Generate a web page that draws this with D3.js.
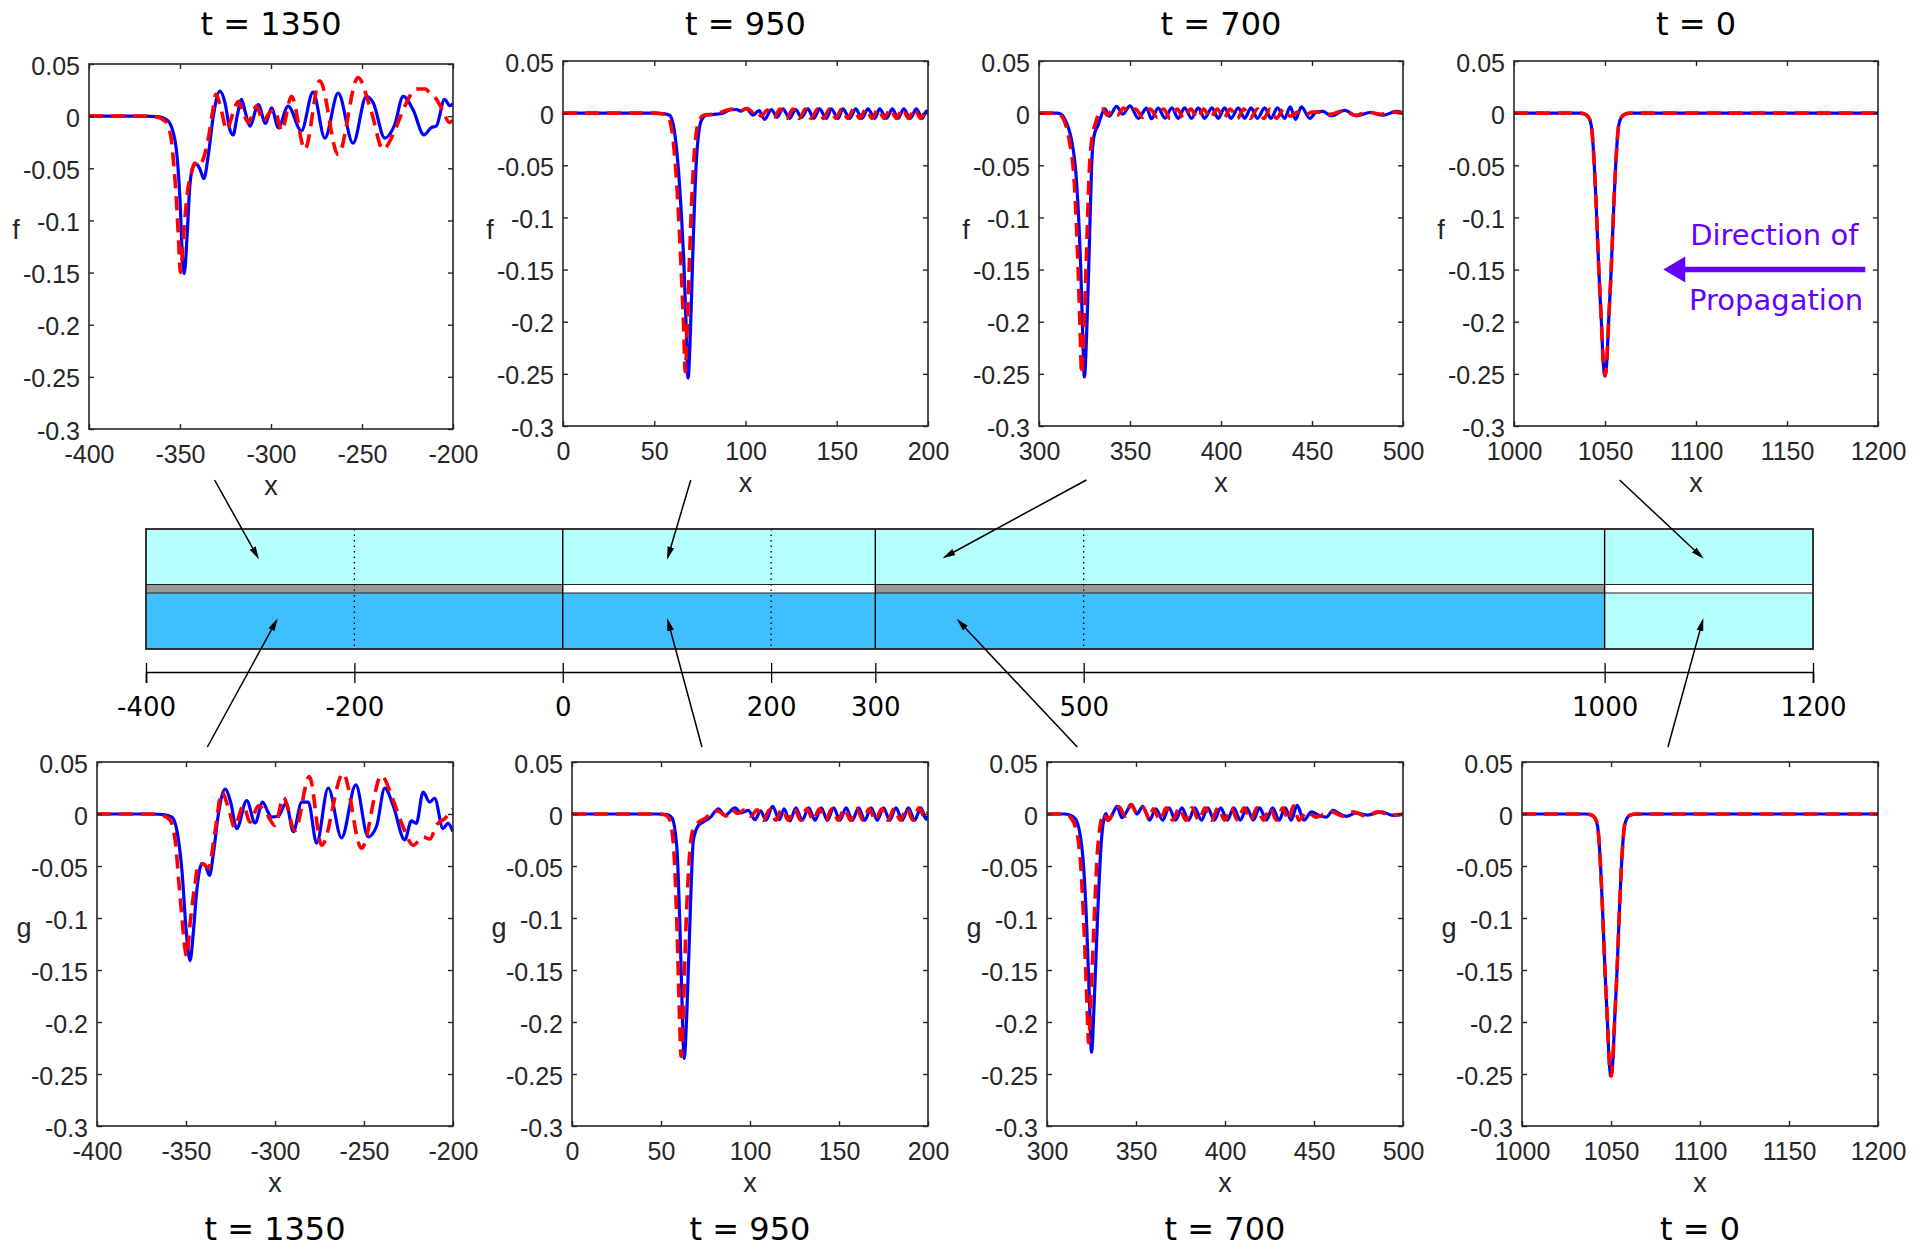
<!DOCTYPE html>
<html>
<head>
<meta charset="utf-8">
<script src="https://cdn.jsdelivr.net/npm/d3@7"></script>
<style>
body { margin: 0; background: #fff; }
svg { display: block; }
</style>
</head>
<body>
<svg id="fig" width="1924" height="1250"></svg>
<script>
// snapshot times and axis settings, one entry per column
const times = [1350, 950, 700, 0];
const xDomains = [[-400, -200], [0, 200], [300, 500], [1000, 1200]];
const xTicks = [[-400, -350, -300, -250, -200], [0, 50, 100, 150, 200],
                [300, 350, 400, 450, 500], [1000, 1050, 1100, 1150, 1200]];
const yTicks = [0.05, 0, -0.05, -0.1, -0.15, -0.2, -0.25, -0.3];

// f (upper layer), t = 1350
const f1350Blue = [[-400,0],[-370,0],[-362,-0.0005],[-357,-0.004],[-354,-0.014],[-352,-0.032],[-350,-0.08],[-348.6,-0.1376],
  [-347.7,-0.151],[-346,-0.112],[-344.6,-0.067],[-342.7,-0.048],[-340.9,-0.046],[-339,-0.051],[-336.9,-0.06],[-334.5,-0.038],
  [-331.7,0],[-328.1,0.024],[-325.3,0.013],[-322.6,-0.013],[-320.8,-0.018],[-318.6,0],[-316.2,0.016],[-314,0.003],[-311.6,-0.0096],
  [-307,0.011],[-303,-0.007],[-299.7,0.008],[-296,-0.011],[-290.6,0.0096],[-283.3,-0.014],[-276.9,0.023],[-270.4,-0.021],
  [-263.1,0.022],[-254.9,-0.026],[-247.6,0.019],[-243.9,0.013],[-237.5,-0.021],[-232,-0.008],[-227.4,0.019],[-221.9,0.006],
  [-216,-0.018],[-211.9,-0.011],[-209.2,-0.0096],[-204.6,0.016],[-201.8,0.010],[-200,0.012]];
const f1350Red = [[-400,0],[-372,0],[-364,-0.0005],[-358,-0.005],[-355,-0.02],[-353.5,-0.045],[-352,-0.08],[-351,-0.112],
  [-349.7,-0.150],[-348.2,-0.118],[-346,-0.074],[-343.6,-0.054],[-342,-0.045],[-340,-0.048],[-337,-0.04],[-334.5,-0.022],
  [-332,0.005],[-330.3,0.021],[-327.2,0.005],[-324.4,-0.013],[-321,0.002],[-318,0.014],[-315,0.002],[-312.5,-0.006],[-308,0.0096],
  [-304.3,-0.005],[-301,0.003],[-297.9,0.006],[-294.2,-0.014],[-288.7,0.019],[-281.4,-0.032],[-273.2,0.034],[-263.1,-0.037],
  [-252.2,0.037],[-245,0.005],[-238.4,-0.032],[-233,-0.018],[-226.5,0.0096],[-220.1,0.026],[-215,0.026],[-213.7,0.024],
  [-209,0.016],[-205.5,0.005],[-202,-0.006],[-200,-0.004]];

// f, t = 950
const f950Blue = [[0,0],[50,0],[55,-0.0005],[58.4,-0.002],[61.2,-0.019],[63.9,-0.07],[66.3,-0.147],[67.6,-0.211],[68.5,-0.254],
  [69.8,-0.211],[71.2,-0.131],[73.1,-0.045],[75.8,-0.007],[78.5,-0.002],[84,-0.001],[87.7,0],[91.3,0.003],[95,0.0035],[97.5,0.002],
  [100.5,0.0045],[104.1,-0.002],[107.4,0.0025],[110.5,-0.006],[114.2,0.0035],[117.3,-0.004],[120.5,0.004],[124.2,-0.005],
  [127.5,0.0035],[130.6,-0.004],[134.2,0.004],[137.4,-0.005],[140.6,0.004],[144.3,-0.005],[147,0.004],[150.7,-0.005],[153.4,0.004],
  [157.1,-0.005],[160.4,0.004],[163.8,-0.005],[167.1,0.004],[170.8,-0.005],[173.5,0.004],[177.2,-0.005],[180.5,0.004],
  [183.6,-0.005],[186.7,0.004],[190.3,-0.005],[193.6,0.004],[196.9,-0.005],[199.1,0.002],[200,0.001]];
const f950Red = [[0,0],[50,0],[54,-0.0005],[57,-0.002],[59.5,-0.015],[62,-0.06],[64.5,-0.14],[66,-0.2],[67,-0.248],[68.2,-0.2],
  [69.5,-0.13],[71.5,-0.05],[74,-0.01],[77,-0.002],[82,-0.001],[86,0.0005],[90,0.003],[94,0.004],[98,0.003],[101,0.0045],[104,0.001],
  [106,0.003],[108.5,-0.003],[112,0.003],[115.5,-0.004],[119,0.004],[122.5,-0.005],[126,0.004],[129.5,-0.005],[132.8,0.004],
  [136,-0.005],[139.5,0.004],[142.8,-0.005],[146,0.004],[149.5,-0.005],[152.8,0.004],[156,-0.005],[159.3,0.004],[162.6,-0.005],
  [166,0.004],[169.3,-0.005],[172.6,0.004],[176,-0.005],[179.3,0.004],[182.6,-0.005],[186,0.004],[189.3,-0.005],[192.6,0.004],
  [196,-0.005],[199,0.003],[200,0.002]];

// f, t = 700
const f700Blue = [[300,0],[310,0],[312,-0.001],[314.3,-0.006],[316.5,-0.016],[317.9,-0.026],[320.7,-0.067],[322.9,-0.147],
  [324,-0.211],[324.9,-0.253],[326.2,-0.211],[327.6,-0.131],[328.9,-0.051],[330.2,-0.022],[332.6,-0.011],[334.4,-0.0016],
  [336.2,0.004],[338.6,-0.003],[342.6,0.0064],[346,-0.001],[350,0.007],[354.6,-0.005],[359.1,0.0048],[361.8,-0.0054],
  [365.5,0.0048],[369.2,-0.0048],[373,0.005],[376.5,-0.005],[380,0.005],[383.8,-0.005],[387.5,0.005],[391,-0.005],[395,0.005],
  [398.5,-0.005],[402,0.005],[405.5,-0.005],[409.5,0.005],[413,-0.005],[416.5,0.005],[420,-0.005],[424,0.005],[427.5,-0.005],
  [431,0.005],[435,-0.005],[438,0.006],[441,-0.006],[444.2,0.006],[448.8,-0.005],[452,0.0005],[456,0.0016],[460.7,-0.0026],
  [468,0.0026],[474.4,-0.0026],[481.7,0.0006],[489,-0.002],[496.3,0.0016],[500,0.0005]];
const f700Red = [[300,0],[309,0],[311,-0.001],[313.5,-0.006],[316.5,-0.025],[319.5,-0.07],[321.5,-0.15],[322.6,-0.21],
  [323.4,-0.25],[324.6,-0.21],[326,-0.14],[327.5,-0.06],[329,-0.025],[331,-0.01],[333.5,0.002],[335,0.004],[337.5,-0.002],
  [340,0.002],[343,-0.002],[346.5,0.005],[350,0.001],[353,0.004],[357,-0.004],[361,0.004],[365,-0.004],[368.5,0.004],
  [372,-0.005],[376,0.004],[379.5,-0.005],[383.5,0.004],[387,-0.005],[390.5,0.004],[394,-0.005],[398,0.004],[401.5,-0.005],
  [405,0.004],[409,-0.005],[412.5,0.004],[416,-0.005],[420,0.004],[423.5,-0.005],[427,0.004],[430.5,-0.005],[434.5,0.004],
  [438,-0.003],[442,0.001],[446,-0.002],[450,0.001],[455,0.001],[460,-0.001],[467,0.002],[474,-0.002],[481,0.0008],
  [488,-0.001],[495,0.001],[500,0]];

// initial soliton, t = 0 (both layers, both models coincide)
const initialProfile = [[1000,0],[1036,0],[1039,-0.001],[1041,-0.004],[1042.5,-0.012],[1043.8,-0.04],[1045.2,-0.09],
  [1046.6,-0.15],[1048,-0.2],[1049,-0.238],[1050,-0.252],[1051,-0.238],[1052,-0.2],[1053.4,-0.15],[1054.8,-0.09],
  [1056.2,-0.04],[1057.5,-0.012],[1059,-0.004],[1061,-0.001],[1064,0],[1200,0]];

// g (lower layer), t = 1350
const g1350Blue = [[-400,0],[-370,0],[-362.6,-0.0005],[-357.9,-0.003],[-355.1,-0.016],[-352.3,-0.054],[-349.9,-0.112],
  [-347.7,-0.141],[-345.8,-0.112],[-343.9,-0.073],[-341.1,-0.048],[-339,-0.05],[-336.8,-0.059],[-334.6,-0.038],[-331.8,0],
  [-328,0.024],[-325,0.012],[-321.5,-0.014],[-315.9,0.013],[-311.2,-0.0086],[-306.9,0.0115],[-304,0.002],[-301.9,-0.003],
  [-298.1,-0.002],[-293.8,0.0106],[-289.7,-0.017],[-285,0.0115],[-281.3,0.0115],[-276.6,-0.028],[-270.1,0.025],[-262.6,-0.023],
  [-254.6,0.028],[-247.7,-0.022],[-243,-0.012],[-238.3,0.025],[-233.6,0.008],[-227.1,-0.025],[-223.4,-0.0067],[-220.6,-0.009],
  [-216.8,0.021],[-213.1,0.0115],[-210.3,0.015],[-205.6,-0.014],[-202.8,-0.009],[-200,-0.017]];
const g1350Red = [[-400,0],[-372,0],[-365,-0.0005],[-358.9,-0.006],[-356.1,-0.025],[-353.3,-0.08],[-349.5,-0.137],
  [-347.7,-0.105],[-344.9,-0.067],[-343,-0.048],[-340.2,-0.048],[-337.4,-0.052],[-333.6,-0.016],[-329.9,0.021],[-326,0.005],
  [-322.8,-0.0125],[-317.8,0.008],[-314,-0.0077],[-309.3,0.008],[-305,0.001],[-300,-0.011],[-295.3,0.016],[-288.8,-0.016],
  [-280.7,0.036],[-273.8,-0.03],[-261.7,0.039],[-251.4,-0.033],[-240.2,0.037],[-234,0.015],[-228,-0.0125],[-222.4,-0.03],
  [-217,-0.022],[-213.1,-0.024],[-209,-0.01],[-204.7,-0.0045],[-200,0.005]];

// g, t = 950
const g950Blue = [[0,0],[48,0],[53.3,-0.0005],[56.1,-0.0035],[58.9,-0.032],[60.7,-0.112],[62,-0.192],[63,-0.235],[64.5,-0.192],
  [66.4,-0.096],[68.2,-0.025],[71,-0.011],[73.8,-0.0077],[77.6,-0.0035],[82.2,0.005],[86,-0.0013],[91.6,0.0058],[95,0.001],
  [99,0.0035],[102.8,-0.0054],[106,0.003],[109,-0.006],[112.7,0.0074],[116.5,-0.0054],[119.1,0.005],[122.4,-0.0067],
  [125.8,0.006],[129.3,-0.006],[133,0.006],[136.5,-0.006],[140,0.006],[143.5,-0.006],[147,0.006],[150.5,-0.006],[154,0.006],
  [157.5,-0.006],[161,0.006],[164.5,-0.006],[168,0.006],[171.5,-0.006],[175,0.006],[178.5,-0.006],[182,0.006],[185.5,-0.006],
  [189,0.006],[192.5,-0.006],[196,0.006],[199,-0.005],[200,-0.002]];
const g950Red = [[0,0],[47,0],[51.5,-0.0005],[54.5,-0.004],[57,-0.03],[59,-0.11],[60.3,-0.19],[61.3,-0.233],[62.5,-0.19],
  [64,-0.11],[66,-0.04],[68,-0.015],[71,-0.008],[75,-0.004],[80,0.003],[83,0.002],[86.5,-0.002],[90,0.004],[93,0.0005],
  [97,0.004],[100.5,-0.002],[104,0.004],[107.5,-0.006],[111,0.004],[114.5,-0.006],[118,0.005],[121.5,-0.006],[125,0.005],
  [128.5,-0.006],[132,0.005],[135.5,-0.006],[139,0.005],[142.5,-0.006],[146,0.005],[149.5,-0.006],[153,0.005],[156.5,-0.006],
  [160,0.005],[163.5,-0.006],[167,0.005],[170.5,-0.006],[174,0.005],[177.5,-0.006],[181,0.005],[184.5,-0.006],[188,0.006],
  [191.5,-0.006],[195,0.006],[198.5,-0.004],[200,0.002]];

// g, t = 700
const g700Blue = [[300,0],[310,0],[312.1,-0.0005],[315.9,-0.0045],[319.6,-0.032],[322.1,-0.099],[323.9,-0.182],[325,-0.229],
  [326.5,-0.182],[328.4,-0.099],[330.3,-0.032],[331.8,-0.006],[333.1,0.0003],[334.6,-0.006],[337.4,0.002],[339.3,0.0074],
  [342.1,-0.0035],[347.7,0.009],[350.5,0],[353.8,0.0074],[357.6,-0.006],[361.2,0.005],[365,-0.006],[368.5,0.006],[372.2,-0.006],
  [375.8,0.006],[379.5,-0.006],[383,0.006],[386.8,-0.006],[390.3,0.006],[394,-0.006],[397.6,0.006],[401.3,-0.006],[404.9,0.006],
  [408.6,-0.006],[412.2,0.006],[415.9,-0.006],[419.5,0.006],[423.2,-0.006],[426.8,0.006],[430.4,-0.006],[433.8,0.006],
  [437.2,-0.006],[440.5,0.0083],[444.3,-0.006],[448.6,0.002],[452.5,-0.001],[457,-0.003],[460.7,0.0035],[464.5,0],
  [468.2,-0.0022],[473.8,0.001],[480,-0.001],[487.9,0.002],[494.4,-0.0013],[500,-0.0003]];
const g700Red = [[300,0],[309,0],[311.5,-0.001],[315,-0.008],[318.5,-0.04],[320.8,-0.11],[322.4,-0.18],[323.4,-0.22],
  [324.6,-0.18],[326.3,-0.11],[328.2,-0.04],[330,-0.01],[332,0.0005],[334,-0.006],[337,0],[340.5,0.007],[344,-0.002],
  [347,0.009],[350.5,0.001],[354,0.006],[357.8,-0.005],[359.7,0.005],[363.5,-0.006],[367,0.006],[370.7,-0.006],[374.3,0.006],
  [378,-0.006],[381.5,0.006],[385.3,-0.006],[388.8,0.006],[392.5,-0.006],[396.1,0.006],[399.8,-0.006],[403.4,0.006],
  [407.1,-0.006],[410.7,0.006],[414.4,-0.006],[418,0.006],[421.7,-0.006],[425.3,0.006],[428.9,-0.006],[432.5,0.006],
  [435.5,-0.006],[438.5,0.008],[441.5,-0.006],[446,0.002],[451,-0.003],[456,0],[460,0.002],[466,-0.002],[472,0.002],
  [479,-0.002],[486,0.002],[493,-0.001],[500,0]];

const fBlue = [f1350Blue, f950Blue, f700Blue, initialProfile];
const fRed = [f1350Red, f950Red, f700Red, initialProfile];
const gBlue = [g1350Blue, g950Blue, g700Blue, initialProfile];
const gRed = [g1350Red, g950Red, g700Red, initialProfile];

// schematic of the channel
const stripBounds = [-400, 0, 300, 1000, 1200];
const interfaceFill = ["#999999", "#ffffff", "#999999", "#ffffff"];
const lowerFill = ["#40bfff", "#40bfff", "#40bfff", "#b6ffff"];
const dottedAt = [-200, 200, 500];
const stripTicks = [-400, -200, 0, 200, 300, 500, 1000, 1200];

// arrows: from a panel (x in panel units) to the schematic (x in schematic units)
const arrowFrom = [-331, 70, 326, 1058, -338, 73, 317, 1082];
const arrowTo = [-293, 101, 367, 1093, -275, 101, 380, 1094];

const topBoxes = [[89, 64, 453, 429], [563, 61, 928, 426], [1039, 61, 1403, 426], [1514, 61, 1878, 426]];
const bottomBoxes = [[97, 762, 453, 1126], [572, 762, 928, 1126], [1047, 762, 1403, 1126], [1522, 762, 1878, 1126]];

const axisColor = "#262626";
const tickFont = "'Liberation Sans', Arial, Helvetica, sans-serif";
const titleFont = "'DejaVu Sans', sans-serif";

const svg = d3.select("#fig");
const defs = svg.append("defs");
defs.append("marker").attr("id", "ah")
    .attr("viewBox", "0 0 13 8").attr("refX", 10).attr("refY", 4)
    .attr("markerWidth", 13).attr("markerHeight", 8)
    .attr("markerUnits", "userSpaceOnUse").attr("orient", "auto")
    .append("path").attr("d", "M0,0.6 L13,4 L0,7.4 Z").attr("fill", "#000");

function formatTick(d) {
    return String(+d.toFixed(2));
}

function drawPanel(i, box, label, blue, red, row) {
    const [x0, y0, x1, y1] = box;
    const x = d3.scaleLinear().domain(xDomains[i]).range([x0, x1]);
    const y = d3.scaleLinear().domain([-0.3, 0.05]).range([y1, y0]);
    const g = svg.append("g");
    const clipId = `clip-${row}-${i}`;
    defs.append("clipPath").attr("id", clipId).append("rect")
        .attr("x", x0).attr("y", y0).attr("width", x1 - x0).attr("height", y1 - y0);

    const line = d3.line().x(d => x(d[0])).y(d => y(d[1])).curve(d3.curveMonotoneX);
    const plot = g.append("g").attr("clip-path", `url(#${clipId})`);
    plot.append("path").attr("d", line(blue)).attr("fill", "none")
        .attr("stroke", "#0000ff").attr("stroke-width", 3.2).attr("stroke-linejoin", "round");
    plot.append("path").attr("d", line(red)).attr("fill", "none")
        .attr("stroke", "#ff0000").attr("stroke-width", 3.6).attr("stroke-dasharray", "14,8");

    // axes, ticks inside on all four sides like the original
    const bottom = g.append("g").attr("transform", `translate(0,${y1})`)
        .call(d3.axisBottom(x).tickValues(xTicks[i]).tickSizeInner(-5).tickSizeOuter(0).tickPadding(16).tickFormat(formatTick));
    const left = g.append("g").attr("transform", `translate(${x0},0)`)
        .call(d3.axisLeft(y).tickValues(yTicks).tickSizeInner(-5).tickSizeOuter(0).tickPadding(9).tickFormat(formatTick));
    const top = g.append("g").attr("transform", `translate(0,${y0})`)
        .call(d3.axisTop(x).tickValues(xTicks[i]).tickSizeInner(-5).tickSizeOuter(0).tickFormat(""));
    const right = g.append("g").attr("transform", `translate(${x1},0)`)
        .call(d3.axisRight(y).tickValues(yTicks).tickSizeInner(-5).tickSizeOuter(0).tickFormat(""));
    [bottom, left, top, right].forEach(a => {
        a.select(".domain").remove();
        a.selectAll("line").attr("stroke", axisColor).attr("stroke-width", 1.4);
        a.selectAll("text").attr("fill", axisColor).style("font-family", tickFont).style("font-size", "25px");
    });
    left.selectAll("text").attr("dy", "0.4em");
    bottom.selectAll("text").attr("dy", "0.71em");
    g.append("rect").attr("x", x0).attr("y", y0).attr("width", x1 - x0).attr("height", y1 - y0)
        .attr("fill", "none").attr("stroke", axisColor).attr("stroke-width", 1.6);

    g.append("text").attr("x", (x0 + x1) / 2).attr("y", y1 + 66).attr("text-anchor", "middle")
        .attr("fill", axisColor).style("font-family", tickFont).style("font-size", "27px").text("x");
    g.append("text").attr("x", x0 - 73).attr("y", row === "top" ? 239 : 937).attr("text-anchor", "middle")
        .attr("fill", axisColor).style("font-family", tickFont).style("font-size", "27px").text(label);
    g.append("text").attr("x", (x0 + x1) / 2).attr("y", row === "top" ? 35 : 1240).attr("text-anchor", "middle")
        .attr("fill", "#000").style("font-family", titleFont).style("font-size", "32px").text(`t = ${times[i]}`);
    return {x: x, y: y};
}

const topScales = topBoxes.map((b, i) => drawPanel(i, b, "f", fBlue[i], fRed[i], "top"));
const bottomScales = bottomBoxes.map((b, i) => drawPanel(i, b, "g", gBlue[i], gRed[i], "bottom"));

// direction of propagation note in the t = 0 panel
const px = topScales[3].x, py = topScales[3].y;
const purple = "#6600ff";
const tipX = px(1082), tailX = px(1193), arrowY = py(-0.15);
svg.append("line").attr("x1", tailX).attr("x2", tipX + 20).attr("y1", arrowY).attr("y2", arrowY)
    .attr("stroke", purple).attr("stroke-width", 5.5);
svg.append("path").attr("d", `M${tipX},${arrowY} L${tipX + 22},${arrowY - 13} L${tipX + 22},${arrowY + 13} Z`)
    .attr("fill", purple);
svg.append("text").attr("x", px(1143)).attr("y", py(-0.1265)).attr("text-anchor", "middle")
    .attr("fill", purple).style("font-family", titleFont).style("font-size", "29px").text("Direction of");
svg.append("text").attr("x", px(1144)).attr("y", py(-0.1885)).attr("text-anchor", "middle")
    .attr("fill", purple).style("font-family", titleFont).style("font-size", "29px").text("Propagation");

// channel schematic
const xs = d3.scaleLinear().domain([-400, 1200]).range([146, 1813]);
const sTop = 529, sBandTop = 584.5, sBandBottom = 593, sBottom = 649;
const strip = svg.append("g");
const segs = d3.pairs(stripBounds);
strip.selectAll("rect.upper").data(segs).enter().append("rect").attr("class", "upper")
    .attr("x", d => xs(d[0])).attr("width", d => xs(d[1]) - xs(d[0]))
    .attr("y", sTop).attr("height", sBandTop - sTop).attr("fill", "#b6ffff");
strip.selectAll("rect.band").data(segs).enter().append("rect").attr("class", "band")
    .attr("x", d => xs(d[0])).attr("width", d => xs(d[1]) - xs(d[0]))
    .attr("y", sBandTop).attr("height", sBandBottom - sBandTop).attr("fill", (d, i) => interfaceFill[i]);
strip.selectAll("rect.lower").data(segs).enter().append("rect").attr("class", "lower")
    .attr("x", d => xs(d[0])).attr("width", d => xs(d[1]) - xs(d[0]))
    .attr("y", sBandBottom).attr("height", sBottom - sBandBottom).attr("fill", (d, i) => lowerFill[i]);
[sBandTop, sBandBottom].forEach(yy => {
    strip.append("line").attr("x1", xs(-400)).attr("x2", xs(1200)).attr("y1", yy).attr("y2", yy)
        .attr("stroke", "#222").attr("stroke-width", 1.2);
});
strip.selectAll("line.dot").data(dottedAt).enter().append("line").attr("class", "dot")
    .attr("x1", d => xs(d)).attr("x2", d => xs(d)).attr("y1", sTop).attr("y2", sBottom)
    .attr("stroke", "#000").attr("stroke-width", 1.3).attr("stroke-dasharray", "1.5,4");
strip.selectAll("line.wall").data(stripBounds.slice(1, -1)).enter().append("line").attr("class", "wall")
    .attr("x1", d => xs(d)).attr("x2", d => xs(d)).attr("y1", sTop).attr("y2", sBottom)
    .attr("stroke", "#000").attr("stroke-width", 1.4);
strip.append("rect").attr("x", xs(-400)).attr("y", sTop).attr("width", xs(1200) - xs(-400)).attr("height", sBottom - sTop)
    .attr("fill", "none").attr("stroke", "#222").attr("stroke-width", 1.8);

const sAxis = strip.append("g").attr("transform", "translate(0,672)")
    .call(d3.axisBottom(xs).tickValues(stripTicks).tickSizeOuter(0).tickSize(11).tickPadding(15).tickFormat(d => String(d)));
sAxis.select(".domain").attr("stroke", "#000").attr("stroke-width", 1.6);
sAxis.selectAll(".tick line").attr("y1", -9).attr("y2", 11).attr("stroke", "#000").attr("stroke-width", 1.3);
sAxis.selectAll("text").attr("fill", "#000").style("font-family", titleFont).style("font-size", "26px").attr("dy", "0.71em");

// arrows linking panels to the schematic
const arrowData = arrowFrom.map((from, k) => {
    const upper = k < 4;
    const sc = upper ? topScales[k] : bottomScales[k - 4];
    return {
        x1: sc.x(from), y1: upper ? 480 : 747,
        x2: xs(arrowTo[k]), y2: upper ? (sTop + sBandTop) / 2 : (sBandBottom + sBottom) / 2
    };
});
svg.selectAll("line.link").data(arrowData).enter().append("line").attr("class", "link")
    .attr("x1", d => d.x1).attr("y1", d => d.y1).attr("x2", d => d.x2).attr("y2", d => d.y2)
    .attr("stroke", "#000").attr("stroke-width", 1.5).attr("marker-end", "url(#ah)");
</script>
</body>
</html>
